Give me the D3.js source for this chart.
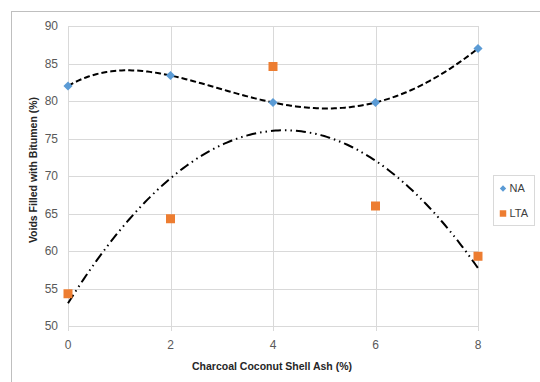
<!DOCTYPE html>
<html>
<head>
<meta charset="utf-8">
<script src="https://cdn.jsdelivr.net/npm/d3@7"></script>
<style>
  body { margin: 0; background: #fff; }
  svg { display: block; font-family: "Liberation Sans", Arial, sans-serif; }
</style>
</head>
<body>
<div id="chart"></div>
<script>
// values
const ashContent = [0, 2, 4, 6, 8];
const naValues = [82, 83.4, 79.8, 79.8, 87];
const ltaValues = [54.3, 64.3, 84.6, 66, 59.3];
const xTicks = [0, 2, 4, 6, 8];
const yTicks = [50, 55, 60, 65, 70, 75, 80, 85, 90];
const seriesNames = ["NA", "LTA"];

const W = 540, H = 382;
const margin = {top: 26, right: 62, bottom: 56, left: 68};
const width = W - margin.left - margin.right;
const height = H - margin.top - margin.bottom;

const svg = d3.select("#chart").append("svg")
    .attr("width", W)
    .attr("height", H);

// outer chart frame (runs off the right and bottom of the shot)
svg.append("rect")
    .attr("x", 11.5).attr("y", 11.5)
    .attr("width", W).attr("height", H)
    .attr("fill", "none")
    .attr("stroke", "#bfbfbf");

const g = svg.append("g")
    .attr("transform", `translate(${margin.left},${margin.top})`);

const x = d3.scaleLinear().domain([0, 8]).range([0, width]);
const y = d3.scaleLinear().domain([50, 90]).range([height, 0]);

// gridlines
g.selectAll(".hgrid").data(yTicks).join("line")
    .attr("x1", 0).attr("x2", width)
    .attr("y1", d => Math.round(y(d)) + 0.5).attr("y2", d => Math.round(y(d)) + 0.5)
    .attr("stroke", "#d9d9d9");

g.selectAll(".vgrid").data(xTicks).join("line")
    .attr("x1", d => Math.round(x(d)) + 0.5).attr("x2", d => Math.round(x(d)) + 0.5)
    .attr("y1", 0).attr("y2", height + 5)
    .attr("stroke", "#d9d9d9");

// tick labels
g.selectAll(".ylab").data(yTicks).join("text")
    .attr("x", -10).attr("y", d => y(d))
    .attr("dy", "0.35em")
    .attr("text-anchor", "end")
    .attr("font-size", 12)
    .attr("fill", "#595959")
    .text(d => d);

g.selectAll(".xlab").data(xTicks).join("text")
    .attr("x", d => x(d)).attr("y", height + 19)
    .attr("dy", "0.35em")
    .attr("text-anchor", "middle")
    .attr("font-size", 12)
    .attr("fill", "#595959")
    .text(d => d);

// axis titles
svg.append("text")
    .attr("x", 272).attr("y", 370)
    .attr("text-anchor", "middle")
    .attr("font-size", 10.5)
    .attr("font-weight", "bold")
    .attr("fill", "#262626")
    .text("Charcoal Coconut Shell Ash (%)");

svg.append("text")
    .attr("transform", "translate(37,170) rotate(-90)")
    .attr("text-anchor", "middle")
    .attr("font-size", 10.5)
    .attr("font-weight", "bold")
    .attr("fill", "#262626")
    .text("Voids Filled with Bitumen (%)");

// least squares polynomial trendline, like the spreadsheet does
function polyFit(xs, ys, order) {
  const n = order + 1;
  const A = [];
  for (let i = 0; i < n; i++) {
    A.push([]);
    for (let j = 0; j < n; j++) A[i].push(d3.sum(xs, v => Math.pow(v, i + j)));
    A[i].push(d3.sum(xs, (v, k) => Math.pow(v, i) * ys[k]));
  }
  for (let c = 0; c < n; c++) {
    let p = c;
    for (let r = c + 1; r < n; r++) if (Math.abs(A[r][c]) > Math.abs(A[p][c])) p = r;
    [A[c], A[p]] = [A[p], A[c]];
    for (let r = 0; r < n; r++) {
      if (r === c) continue;
      const f = A[r][c] / A[c][c];
      for (let k = c; k <= n; k++) A[r][k] -= f * A[c][k];
    }
  }
  const coef = A.map((row, i) => row[n] / row[i]);
  return v => d3.sum(coef, (cf, i) => cf * Math.pow(v, i));
}

const naTrend = polyFit(ashContent, naValues, 4);
const ltaTrend = polyFit(ashContent, ltaValues, 2);
const samples = d3.range(0, 8.0001, 0.05);

const line = d3.line().x(d => x(d[0])).y(d => y(d[1])).curve(d3.curveLinear);

g.append("path")
    .attr("d", line(samples.map(v => [v, naTrend(v)])))
    .attr("fill", "none")
    .attr("stroke", "#000")
    .attr("stroke-width", 2)
    .attr("stroke-dasharray", "6,3");

g.append("path")
    .attr("d", line(samples.map(v => [v, ltaTrend(v)])))
    .attr("fill", "none")
    .attr("stroke", "#000")
    .attr("stroke-width", 2)
    .attr("stroke-dasharray", "10,4,1.5,4,1.5,4");

// markers
const diamond = d3.symbol().type(d3.symbolSquare).size(42);
const square = d3.symbol().type(d3.symbolSquare).size(81);

g.selectAll(".na").data(ashContent).join("path")
    .attr("d", diamond)
    .attr("transform", (d, i) => `translate(${x(d)},${y(naValues[i])}) rotate(45)`)
    .attr("fill", "#5b9bd5");

g.selectAll(".lta").data(ashContent).join("path")
    .attr("d", square)
    .attr("transform", (d, i) => `translate(${x(d)},${y(ltaValues[i])})`)
    .attr("fill", "#ed7d31");

// legend
const lg = svg.append("g").attr("transform", "translate(493.5,175.5)");
lg.append("rect")
    .attr("width", 41).attr("height", 50)
    .attr("fill", "#fff")
    .attr("stroke", "#d9d9d9");

seriesNames.forEach((name, i) => {
  const cy = 13 + i * 25;
  lg.append("path")
      .attr("d", i === 0 ? d3.symbol().type(d3.symbolSquare).size(20)() : d3.symbol().type(d3.symbolSquare).size(42)())
      .attr("transform", i === 0 ? `translate(9.5,${cy}) rotate(45)` : `translate(9.5,${cy})`)
      .attr("fill", i === 0 ? "#5b9bd5" : "#ed7d31");
  lg.append("text")
      .attr("x", 16).attr("y", cy)
      .attr("dy", "0.35em")
      .attr("font-size", 11)
      .attr("fill", "#404040")
      .text(name);
});
</script>
</body>
</html>
